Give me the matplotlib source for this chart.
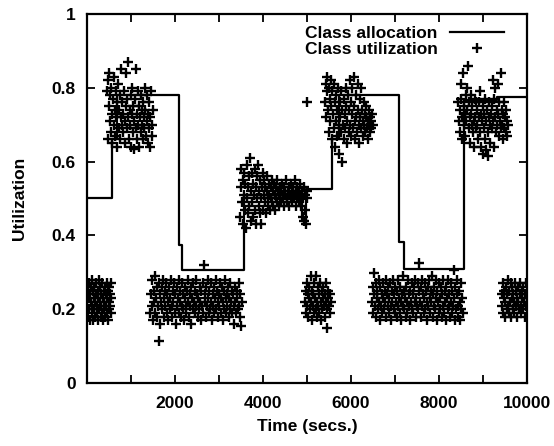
"""Class allocation against measured class utilization over one run."""

import matplotlib

matplotlib.use("Agg")
import matplotlib.pyplot as plt

# allocation given to the class (step function, value holds until next time)
ALLOC_TIMES = [0, 580, 690, 2100, 2170, 3580, 4890, 4990, 5580, 5720,
               7100, 7210, 8580, 9310, 10000]
ALLOC_LEVELS = [0.50, 0.66, 0.78, 0.375, 0.305, 0.51, 0.44, 0.525, 0.66, 0.78,
                0.383, 0.308, 0.767, 0.775, 0.775]

# measured utilization samples (time in secs, utilization)
BURST_A = [(8, .21), (18, .25), (27, .18), (36, .23), (47, .27), (55, .20), (66, .17),
           (74, .24), (85, .22), (93, .26), (104, .19), (113, .28), (122, .21), (134, .17),
           (142, .25), (151, .23), (163, .20), (171, .26), (180, .18), (192, .22), (200, .27),
           (211, .24), (219, .19), (230, .21), (241, .25), (250, .17), (259, .23), (270, .28),
           (278, .20), (290, .22), (298, .26), (309, .18), (318, .24), (327, .21), (339, .19),
           (346, .27), (357, .23), (366, .17), (377, .25), (385, .20), (396, .22), (405, .26),
           (414, .18), (425, .24), (433, .21), (444, .27), (452, .19), (463, .23), (471, .25),
           (482, .17), (491, .22), (500, .26), (511, .20), (519, .24), (530, .21), (538, .27),
           (549, .19), (557, .23)]

BURST_B = [(455, .79), (468, .82), (480, .66), (492, .75), (505, .84), (517, .71), (530, .78),
           (542, .68), (555, .80), (567, .73), (580, .65), (592, .77), (605, .83), (617, .70),
           (630, .74), (642, .67), (655, .79), (667, .72), (680, .64), (692, .76), (705, .81),
           (717, .69), (730, .74), (742, .78), (755, .66), (767, .72), (780, .85), (792, .70),
           (805, .76), (817, .68), (830, .73), (842, .79), (855, .65), (867, .71), (880, .84),
           (892, .75), (905, .69), (917, .77), (930, .87), (942, .72), (955, .66), (967, .74),
           (980, .70), (992, .78), (1005, .64), (1017, .73), (1030, .80), (1042, .68),
           (1055, .75), (1067, .71), (1080, .635), (1092, .77), (1105, .69), (1117, .85),
           (1130, .73), (1142, .66), (1155, .79), (1167, .70), (1180, .75), (1192, .64),
           (1205, .72), (1217, .78), (1230, .68), (1242, .74), (1255, .70), (1267, .66),
           (1280, .76), (1292, .72), (1305, .69), (1317, .80), (1330, .74), (1342, .67),
           (1355, .71), (1367, .78), (1380, .65), (1392, .73), (1405, .69), (1417, .76),
           (1430, .64), (1442, .72), (1455, .79), (1467, .70), (1480, .67), (1492, .74)]

BURST_C = [(1442, .19), (1456, .24), (1471, .28), (1485, .21), (1498, .17), (1514, .25),
           (1528, .22), (1541, .29), (1557, .19), (1570, .23), (1586, .26), (1599, .18),
           (1613, .21), (1628, .115), (1642, .27), (1655, .24), (1670, .16), (1684, .22),
           (1697, .26), (1713, .20), (1727, .28), (1740, .23), (1756, .18), (1769, .25),
           (1784, .21), (1798, .27), (1811, .19), (1826, .24), (1840, .22), (1853, .17),
           (1869, .26), (1882, .20), (1897, .23), (1911, .28), (1924, .21), (1939, .18),
           (1953, .25), (1966, .22), (1982, .27), (1995, .19), (2010, .24), (2023, .16),
           (2038, .21), (2052, .26), (2065, .23), (2081, .19), (2094, .28), (2108, .22),
           (2123, .25), (2136, .18), (2151, .21), (2165, .27), (2178, .20), (2193, .24),
           (2207, .17), (2220, .23), (2235, .26), (2249, .21), (2262, .19), (2278, .25),
           (2291, .22), (2305, .28), (2320, .18), (2333, .24), (2348, .21), (2362, .16),
           (2375, .26), (2390, .23), (2404, .20), (2417, .27), (2433, .22), (2446, .19),
           (2461, .25), (2475, .21), (2488, .28), (2503, .24), (2517, .18), (2530, .23),
           (2546, .20), (2559, .26), (2574, .22), (2588, .17), (2601, .25), (2616, .21),
           (2630, .27), (2643, .19), (2659, .32), (2672, .24), (2687, .22), (2700, .18),
           (2714, .26), (2729, .21), (2742, .28), (2757, .23), (2771, .19), (2784, .25),
           (2799, .20), (2813, .27), (2826, .22), (2841, .17), (2855, .24), (2868, .21),
           (2884, .26), (2897, .19), (2911, .23), (2926, .28), (2939, .20), (2953, .25),
           (2968, .22), (2981, .18), (2996, .24), (3010, .21), (3023, .27), (3038, .19),
           (3052, .23), (3065, .26), (3081, .17), (3094, .22), (3108, .25), (3123, .20),
           (3136, .28), (3151, .23), (3165, .19), (3178, .24), (3193, .21), (3207, .26),
           (3220, .18), (3235, .23), (3249, .27), (3262, .20), (3278, .22), (3291, .25),
           (3305, .19), (3320, .24), (3333, .21), (3348, .16), (3362, .26), (3375, .22),
           (3390, .19), (3404, .25), (3417, .23), (3433, .20), (3446, .27), (3461, .21),
           (3475, .18), (3488, .24), (3503, .155), (3517, .22)]

BURST_D = [(3485, .45), (3498, .53), (3510, .58), (3523, .49), (3536, .55), (3549, .43),
           (3562, .51), (3575, .57), (3588, .47), (3601, .54), (3614, .42), (3627, .50),
           (3640, .59), (3653, .46), (3666, .53), (3679, .48), (3692, .56), (3705, .61),
           (3718, .44), (3731, .52), (3744, .57), (3757, .49), (3770, .54), (3783, .45),
           (3796, .51), (3809, .58), (3822, .47), (3835, .53), (3848, .43), (3861, .50),
           (3874, .56), (3887, .59), (3900, .48), (3913, .52), (3926, .46), (3939, .55),
           (3952, .50), (3965, .43), (3978, .53), (3991, .57), (4004, .47), (4017, .51),
           (4030, .55), (4043, .49), (4056, .53), (4069, .46), (4082, .52), (4095, .56),
           (4108, .50), (4121, .48), (4134, .54), (4147, .51), (4160, .47), (4173, .53),
           (4186, .50), (4199, .55), (4212, .49), (4225, .52), (4238, .48), (4251, .54),
           (4264, .51), (4277, .47), (4290, .53), (4303, .50), (4316, .55), (4329, .49),
           (4342, .52), (4355, .51), (4368, .48), (4381, .53), (4394, .50), (4407, .52),
           (4420, .49), (4433, .54), (4446, .51), (4459, .50), (4472, .53), (4485, .48),
           (4498, .52), (4511, .51), (4524, .55), (4537, .50), (4550, .49), (4563, .52),
           (4576, .51), (4589, .53), (4602, .48), (4615, .51), (4628, .54), (4641, .50),
           (4654, .52), (4667, .49), (4680, .51), (4693, .53), (4706, .50), (4719, .55),
           (4732, .51), (4745, .48), (4758, .52), (4771, .50), (4784, .53), (4797, .51),
           (4810, .49), (4823, .52), (4836, .54), (4849, .50), (4862, .51), (4875, .48),
           (4888, .52), (4901, .45), (4914, .50), (4927, .44), (4940, .53), (4953, .47),
           (4966, .51), (4979, .43), (4992, .52), (5005, .50), (5010, .76)]

BURST_E = [(4955, .22), (4968, .25), (4980, .19), (4993, .27), (5006, .21), (5019, .24),
           (5031, .18), (5044, .23), (5057, .26), (5070, .20), (5082, .22), (5095, .29),
           (5108, .17), (5121, .25), (5133, .21), (5146, .24), (5159, .19), (5172, .27),
           (5184, .23), (5197, .20), (5210, .29), (5223, .22), (5235, .18), (5248, .26),
           (5261, .21), (5274, .24), (5286, .19), (5299, .27), (5312, .22), (5325, .17),
           (5337, .25), (5350, .20), (5363, .23), (5376, .26), (5388, .21), (5401, .18),
           (5414, .24), (5427, .22), (5439, .27), (5452, .15), (5465, .20), (5478, .23),
           (5490, .25), (5503, .21), (5516, .19), (5529, .24), (5541, .22)]

BURST_F = [(5415, .76), (5428, .81), (5440, .72), (5453, .79), (5466, .83), (5478, .74),
           (5491, .68), (5504, .80), (5516, .77), (5529, .71), (5542, .82), (5554, .75),
           (5567, .66), (5580, .79), (5592, .73), (5605, .69), (5618, .81), (5630, .64),
           (5643, .76), (5656, .71), (5668, .78), (5681, .67), (5694, .74), (5706, .80),
           (5719, .70), (5732, .62), (5744, .76), (5757, .72), (5770, .68), (5782, .79),
           (5795, .60), (5808, .74), (5820, .70), (5833, .77), (5846, .66), (5858, .73),
           (5871, .69), (5884, .80), (5896, .75), (5909, .65), (5922, .71), (5934, .78),
           (5947, .68), (5960, .74), (5972, .82), (5985, .70), (5998, .76), (6010, .67),
           (6023, .73), (6036, .80), (6048, .69), (6061, .75), (6074, .83), (6086, .71),
           (6099, .66), (6112, .78), (6124, .72), (6137, .68), (6150, .81), (6162, .74),
           (6175, .70), (6188, .65), (6200, .77), (6213, .72), (6226, .80), (6238, .69),
           (6251, .74), (6264, .67), (6276, .71), (6289, .76), (6302, .70), (6314, .73),
           (6327, .68), (6340, .72), (6352, .75), (6365, .69), (6378, .71), (6390, .66),
           (6403, .74), (6416, .70), (6428, .72), (6441, .68), (6454, .71), (6466, .69),
           (6479, .73), (6492, .70)]

BURST_G = [(6478, .22), (6491, .26), (6505, .19), (6519, .297), (6532, .24), (6546, .21),
           (6560, .27), (6573, .18), (6587, .23), (6601, .25), (6614, .20), (6628, .28),
           (6642, .22), (6655, .17), (6669, .26), (6683, .21), (6696, .24), (6710, .19),
           (6724, .27), (6737, .23), (6751, .20), (6765, .25), (6778, .22), (6792, .28),
           (6806, .18), (6819, .24), (6833, .21), (6847, .26), (6860, .19), (6874, .23),
           (6888, .27), (6901, .21), (6915, .17), (6929, .25), (6942, .22), (6956, .28),
           (6970, .20), (6983, .24), (6997, .19), (7011, .26), (7024, .22), (7038, .18),
           (7052, .25), (7065, .21), (7079, .28), (7093, .23), (7106, .19), (7120, .26),
           (7134, .22), (7147, .17), (7161, .24), (7175, .21), (7188, .29), (7202, .20),
           (7216, .25), (7229, .23), (7243, .18), (7257, .26), (7270, .22), (7284, .19),
           (7298, .28), (7311, .24), (7325, .21), (7339, .17), (7352, .25), (7366, .22),
           (7380, .27), (7393, .20), (7407, .24), (7421, .19), (7434, .26), (7448, .22),
           (7462, .28), (7475, .18), (7489, .23), (7503, .21), (7516, .27), (7530, .20),
           (7544, .324), (7557, .25), (7571, .22), (7585, .18), (7598, .26), (7612, .21),
           (7626, .28), (7639, .24), (7653, .19), (7667, .23), (7680, .27), (7694, .20),
           (7708, .25), (7721, .22), (7735, .17), (7749, .26), (7762, .21), (7776, .28),
           (7790, .23), (7803, .19), (7817, .25), (7831, .22), (7844, .29), (7858, .18),
           (7872, .24), (7885, .21), (7899, .26), (7913, .20), (7926, .23), (7940, .28),
           (7954, .17), (7967, .25), (7981, .22), (7995, .19), (8008, .27), (8022, .23),
           (8036, .20), (8049, .26), (8063, .18), (8077, .24), (8090, .21), (8104, .28),
           (8118, .19), (8131, .25), (8145, .22), (8159, .17), (8172, .26), (8186, .23),
           (8200, .20), (8213, .28), (8227, .21), (8241, .24), (8254, .18), (8268, .27),
           (8282, .22), (8295, .19), (8309, .25), (8323, .21), (8336, .306), (8350, .23),
           (8364, .17), (8377, .26), (8391, .20), (8405, .24), (8418, .28), (8432, .21),
           (8446, .18), (8459, .25), (8473, .22), (8487, .17), (8500, .27), (8514, .20),
           (8528, .23), (8541, .19)]

BURST_H = [(8445, .76), (8458, .71), (8470, .74), (8483, .68), (8496, .77), (8509, .81),
           (8521, .72), (8534, .66), (8547, .84), (8560, .75), (8572, .70), (8585, .73),
           (8598, .67), (8611, .78), (8623, .71), (8636, .80), (8649, .74), (8662, .86),
           (8674, .69), (8687, .76), (8700, .72), (8713, .65), (8725, .78), (8738, .73),
           (8751, .70), (8764, .75), (8776, .68), (8789, .71), (8802, .64), (8815, .77),
           (8827, .72), (8840, .69), (8853, .76), (8866, .74), (8878, .70), (8891, .66),
           (8904, .76), (8917, .72), (8929, .79), (8942, .68), (8955, .73), (8968, .64),
           (8980, .71), (8993, .62), (9006, .75), (9019, .69), (9031, .73), (9044, .66),
           (9057, .77), (9070, .71), (9082, .63), (9095, .74), (9108, .68), (9121, .615),
           (9133, .72), (9146, .76), (9159, .70), (9172, .65), (9184, .73), (9197, .69),
           (9210, .75), (9223, .82), (9235, .71), (9248, .64), (9261, .77), (9274, .72),
           (9286, .80), (9299, .68), (9312, .74), (9325, .70), (9337, .81), (9350, .73),
           (9363, .67), (9376, .76), (9388, .71), (9401, .69), (9414, .84), (9427, .74),
           (9439, .70), (9452, .66), (9465, .73), (9478, .76), (9490, .69), (9503, .72),
           (9516, .68), (9529, .74), (9541, .71), (9554, .67), (9567, .70)]

BURST_I = [(9425, .24), (9438, .21), (9451, .27), (9463, .19), (9476, .23), (9489, .25),
           (9502, .18), (9514, .22), (9527, .26), (9540, .20), (9553, .24), (9565, .28),
           (9578, .21), (9591, .19), (9604, .25), (9616, .22), (9629, .27), (9642, .18),
           (9655, .23), (9667, .26), (9680, .20), (9693, .24), (9706, .22), (9718, .19),
           (9731, .27), (9744, .21), (9757, .25), (9769, .23), (9782, .18), (9795, .26),
           (9808, .22), (9820, .20), (9833, .24), (9846, .27), (9859, .21), (9871, .19),
           (9884, .25), (9897, .23), (9910, .20), (9922, .26), (9935, .22), (9948, .18),
           (9961, .24), (9973, .21), (9986, .27), (9998, .23)]

BURSTS = [BURST_A, BURST_B, BURST_C, BURST_D, BURST_E, BURST_F, BURST_G, BURST_H, BURST_I]

X_TICKS = list(range(0, 10001, 1000))
X_TICK_LABELS = ["", "", "2000", "", "4000", "", "6000", "", "8000", "", "10000"]
Y_TICKS = [0, 0.2, 0.4, 0.6, 0.8, 1.0]
Y_TICK_LABELS = ["0", "0.2", "0.4", "0.6", "0.8", "1"]


def plot_utilization(output_path):
    plt.rcParams["font.family"] = ["Liberation Sans", "DejaVu Sans"]
    plt.rcParams["font.weight"] = "bold"
    plt.rcParams["axes.labelweight"] = "bold"
    plt.rcParams["font.size"] = 12.5

    fig, ax = plt.subplots(figsize=(5.54, 4.46), dpi=100)
    fig.subplots_adjust(left=0.157, right=0.951, bottom=0.141, top=0.969)

    ax.step(ALLOC_TIMES, ALLOC_LEVELS, where="post", color="black", lw=1.6,
            label="Class allocation")

    times = [t for burst in BURSTS for t, _ in burst]
    utils = [u for burst in BURSTS for _, u in burst]
    ax.plot(times, utils, linestyle="none", marker="+", ms=7, mew=1.7, color="black",
            label="Class utilization")

    ax.set_xlim(0, 10000)
    ax.set_ylim(0, 1)
    ax.set_xticks(X_TICKS)
    ax.set_xticklabels(X_TICK_LABELS)
    ax.set_yticks(Y_TICKS)
    ax.set_yticklabels(Y_TICK_LABELS)
    ax.tick_params(direction="in", length=6, width=1.3, top=True, right=True)
    ax.tick_params(axis="y", pad=8)
    ax.tick_params(axis="x", pad=9)
    for spine in ax.spines.values():
        spine.set_linewidth(1.6)

    ax.set_xlabel("Time (secs.)", labelpad=6)
    ax.set_ylabel("Utilization", labelpad=18)

    ax.legend(loc="upper right", frameon=False, markerfirst=False, handlelength=3.1,
              handletextpad=0.7, labelspacing=0.05, borderaxespad=0.3,
              bbox_to_anchor=(0.975, 1.0))

    fig.savefig(output_path, dpi=100)
    plt.close(fig)


def main():
    plot_utilization("out.png")


if __name__ == "__main__":
    main()
